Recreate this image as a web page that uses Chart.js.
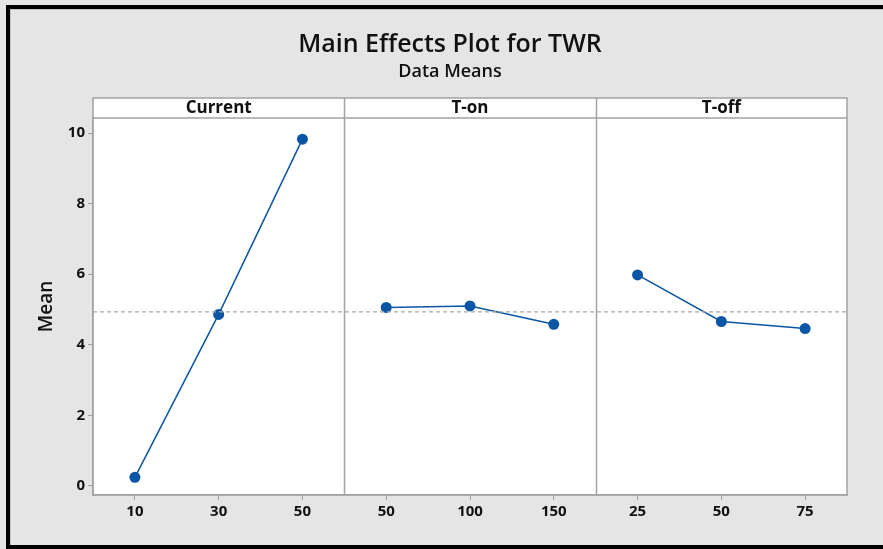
<!DOCTYPE html>
<html>
<head>
<meta charset="utf-8">
<script src="https://cdn.jsdelivr.net/npm/chart.js@4.4.1/dist/chart.umd.min.js"></script>
<style>
  html, body { margin: 0; padding: 0; background: #e5e5e5; }
  #wrap { width: 883px; height: 549px; position: relative; }
</style>
</head>
<body>
<div id="wrap"><canvas id="mep" width="883" height="549"></canvas></div>
<script>
// Main effects plot for TWR (data means)
const panelNames = ['Current', 'T-on', 'T-off'];
const currentLevels = ['10', '30', '50'];
const tonLevels = ['50', '100', '150'];
const toffLevels = ['25', '50', '75'];
const currentMeans = [0.24, 4.86, 9.83];
const tonMeans = [5.06, 5.10, 4.58];
const toffMeans = [5.98, 4.66, 4.46];
const grandMean = 4.93;
const yTicks = [0, 2, 4, 6, 8, 10];

const levelGroups = [currentLevels, tonLevels, toffLevels];
const meanGroups = [currentMeans, tonMeans, toffMeans];
const xLabels = levelGroups.flat();
const nPanels = panelNames.length;
const perPanel = 3;
const xMax = nPanels * perPanel;

const BLUE = '#0a55a5';
const GRID = '#a3a3a3';
const FONT = "'Open Sans', 'Noto Sans', sans-serif";

// each panel gets its own 3-slot slice of the shared x range
const lineSets = meanGroups.map((vals, p) => ({
    data: vals.map((v, i) => ({ x: p * perPanel + i + 0.5, y: v })),
    borderColor: BLUE,
    backgroundColor: BLUE,
    borderWidth: 1.5,
    pointRadius: 5.5,
    pointHoverRadius: 5.5,
    pointBorderWidth: 0,
    tension: 0
}));

const meanLine = {
    data: [{ x: 0, y: grandMean }, { x: xMax, y: grandMean }],
    borderColor: '#a8a8a8',
    borderWidth: 1.2,
    borderDash: [4, 3],
    pointRadius: 0,
    tension: 0
};

// frame, titles, panel strips and dividers
const panelPlugin = {
    id: 'panels',
    beforeDraw(chart) {
        const { ctx, chartArea: a } = chart;
        ctx.save();
        ctx.fillStyle = '#e5e5e5';
        ctx.fillRect(0, 0, chart.width, chart.height);
        // outer black frame (top, left, bottom)
        ctx.fillStyle = '#000';
        ctx.fillRect(6, 5, chart.width - 6, 4);
        ctx.fillRect(6, 5, 4, chart.height - 5);
        ctx.fillRect(6, 545, chart.width - 6, 4);
        ctx.fillStyle = '#c4c4c4';
        ctx.fillRect(10, 9, chart.width - 10, 1);
        ctx.fillRect(10, 9, 1, 536);
        // plot area
        ctx.fillStyle = '#fff';
        ctx.fillRect(a.left, a.top, a.right - a.left, a.bottom - a.top);
        ctx.restore();
    },
    afterDatasetsDraw(chart) {
        const { ctx, chartArea: a, scales } = chart;
        const x = scales.x;
        const stripTop = a.top - 20;
        ctx.save();
        ctx.fillStyle = '#fff';
        ctx.fillRect(a.left, stripTop, a.right - a.left, 20);
        ctx.strokeStyle = GRID;
        ctx.lineWidth = 1.5;
        ctx.strokeRect(a.left, stripTop, a.right - a.left, a.bottom - stripTop);
        ctx.beginPath();
        ctx.moveTo(a.left, a.top);
        ctx.lineTo(a.right, a.top);
        for (let p = 1; p < nPanels; p++) {
            const px = Math.round(x.getPixelForValue(p * perPanel)) + 0.5;
            ctx.moveTo(px, stripTop);
            ctx.lineTo(px, a.bottom);
        }
        ctx.stroke();
        ctx.fillStyle = '#111';
        ctx.font = `700 17px ${FONT}`;
        ctx.textAlign = 'center';
        ctx.textBaseline = 'middle';
        panelNames.forEach((name, p) => {
            const cx = x.getPixelForValue(p * perPanel + perPanel / 2);
            ctx.fillText(name, cx, stripTop + 10);
        });
        // titles
        ctx.font = `600 25px ${FONT}`;
        ctx.fillText('Main Effects Plot for TWR', 450, 45);
        ctx.font = `600 18px ${FONT}`;
        ctx.fillText('Data Means', 450, 72);
        ctx.restore();
    }
};

new Chart(document.getElementById('mep'), {
    type: 'line',
    data: { datasets: [meanLine, ...lineSets] },
    options: {
        responsive: false,
        animation: false,
        events: [],
        layout: { padding: { left: 0, right: 36, top: 118, bottom: 14 } },
        plugins: {
            legend: { display: false },
            tooltip: { enabled: false }
        },
        scales: {
            x: {
                type: 'linear',
                min: 0,
                max: xMax,
                afterBuildTicks: (s) => { s.ticks = xLabels.map((_, i) => ({ value: i + 0.5 })); },
                afterFit: (s) => { s.height = 40; },
                ticks: {
                    callback: (v, i) => xLabels[i],
                    color: '#111',
                    font: { family: FONT, size: 15, weight: '700' },
                    padding: 3,
                    maxRotation: 0,
                    autoSkip: false
                },
                grid: { drawOnChartArea: false, drawTicks: true, tickLength: 5, color: GRID },
                border: { display: true, color: GRID, width: 1.5 }
            },
            y: {
                min: -0.26,
                max: 10.43,
                afterBuildTicks: (s) => { s.ticks = yTicks.map(v => ({ value: v })); },
                afterFit: (s) => { s.width = 93; },
                ticks: {
                    color: '#111',
                    font: { family: FONT, size: 15, weight: '700' },
                    padding: 3
                },
                grid: { drawOnChartArea: false, drawTicks: true, tickLength: 5, color: GRID },
                border: { display: true, color: GRID, width: 1.5 },
                title: {
                    display: true,
                    text: 'Mean',
                    color: '#111',
                    font: { family: FONT, size: 19, weight: '600' },
                    padding: { top: 35 }
                }
            }
        }
    },
    plugins: [panelPlugin]
});
</script>
</body>
</html>
